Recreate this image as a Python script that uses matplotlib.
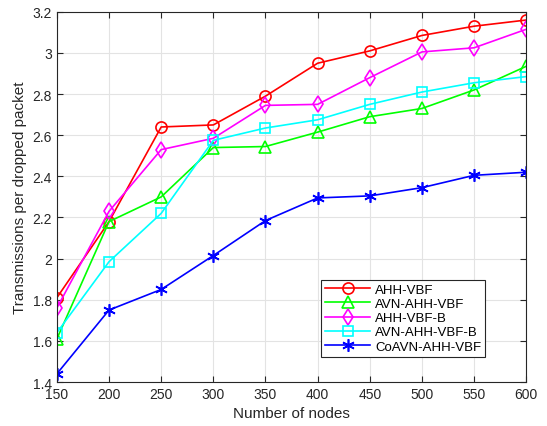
import matplotlib
matplotlib.use('Agg')
import matplotlib.pyplot as plt

plt.rcParams['font.family'] = ['Liberation Sans', 'DejaVu Sans']

nodes = [150, 200, 250, 300, 350, 400, 450, 500, 550, 600]
ahh_vbf = [1.81, 2.18, 2.64, 2.65, 2.79, 2.95, 3.01, 3.085, 3.13, 3.16]
avn_ahh_vbf = [1.61, 2.18, 2.30, 2.54, 2.545, 2.615, 2.69, 2.73, 2.82, 2.935]
ahh_vbf_b = [1.76, 2.23, 2.53, 2.585, 2.745, 2.75, 2.88, 3.005, 3.025, 3.115]
avn_ahh_vbf_b = [1.64, 1.985, 2.22, 2.575, 2.635, 2.675, 2.75, 2.81, 2.855, 2.885]
coavn_ahh_vbf = [1.44, 1.75, 1.85, 2.015, 2.185, 2.295, 2.305, 2.345, 2.405, 2.42]

series = [
    ('AHH-VBF', ahh_vbf, '#ff0000', 'o'),
    ('AVN-AHH-VBF', avn_ahh_vbf, '#00ff00', '^'),
    ('AHH-VBF-B', ahh_vbf_b, '#ff00ff', 'd'),
    ('AVN-AHH-VBF-B', avn_ahh_vbf_b, '#00ffff', 's'),
    ('CoAVN-AHH-VBF', coavn_ahh_vbf, '#0000ff', '*'),
]

fig = plt.figure(figsize=(5.47, 4.27), dpi=100)
ax = fig.add_axes([0.104, 0.103, 0.858, 0.867])

for name, vals, col, mk in series:
    if mk == '*':
        ax.plot(nodes, vals, color=col, marker=(6, 2, 0), markersize=9, lw=1.2,
                markeredgewidth=1.2, label=name)
    else:
        ax.plot(nodes, vals, color=col, marker=mk, markersize=8 if mk != 's' else 6.5,
                markerfacecolor='none', markeredgewidth=1.2, lw=1.2, label=name)

ax.set_xlim(150, 600)
ax.set_ylim(1.4, 3.2)
ax.set_xticks(nodes)
ax.set_yticks([1.4, 1.6, 1.8, 2.0, 2.2, 2.4, 2.6, 2.8, 3.0, 3.2])
ax.set_yticklabels(['1.4', '1.6', '1.8', '2', '2.2', '2.4', '2.6', '2.8', '3', '3.2'])
ax.grid(True, color='#e3e3e3', lw=0.8)
ax.set_axisbelow(True)
ax.tick_params(direction='in', labelsize=10, top=True, right=True, length=4,
               color='#262626', labelcolor='#262626')
for s in ax.spines.values():
    s.set_color('#262626')
    s.set_linewidth(0.8)
ax.set_xlabel('Number of nodes', fontsize=11, color='#262626')
ax.set_ylabel('Transmissions per dropped packet', fontsize=11, color='#262626')

leg = ax.legend(loc='lower right', bbox_to_anchor=(0.927, 0.051), fontsize=9.5,
                fancybox=False, edgecolor='#262626', framealpha=1,
                handlelength=3.4, borderpad=0.3, labelspacing=0.15, handletextpad=0.4)
leg.get_frame().set_linewidth(0.8)

fig.savefig('out.png', dpi=100)
